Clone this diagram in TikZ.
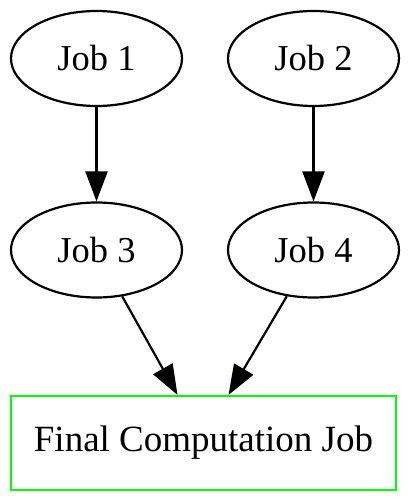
\documentclass[tikz,border=0pt]{standalone}
\usepackage{fontspec}
\setmainfont{Liberation Serif}
\usetikzlibrary{arrows.meta,shapes.geometric}
\definecolor{boxgreen}{RGB}{0,255,0}
\begin{document}
\begin{tikzpicture}[x=1pt,y=1pt,
  jobnode/.style={draw, line width=2.2pt, ellipse, minimum width=171pt, minimum height=95pt, inner sep=0pt, font=\fontsize{36.5}{42}\selectfont},
  finalnode/.style={draw=boxgreen, line width=2.2pt, rectangle, minimum width=385pt, minimum height=94pt, inner sep=0pt, font=\fontsize{37}{42}\selectfont},
  arr/.style={line width=2.2pt, -{Triangle[length=30pt,width=22pt]}}
]
\useasboundingbox (0,0) rectangle (408,-502);
\node[jobnode] (j1) at (96.5,-58.5) {Job 1};
\node[jobnode] (j2) at (313.5,-58.5) {Job 2};
\node[jobnode] (j3) at (96.5,-250) {Job 3};
\node[jobnode] (j4) at (313.5,-250) {Job 4};
\node[finalnode] (fin) at (203.5,-443) {Final Computation Job};
\draw[arr] (j1) -- (j3);
\draw[arr] (j2) -- (j4);
\draw[arr] (j3.-61) -- ([xshift=-26pt]fin.north);
\draw[arr] (j4.-120) -- ([xshift=25pt]fin.north);
\end{tikzpicture}
\end{document}
